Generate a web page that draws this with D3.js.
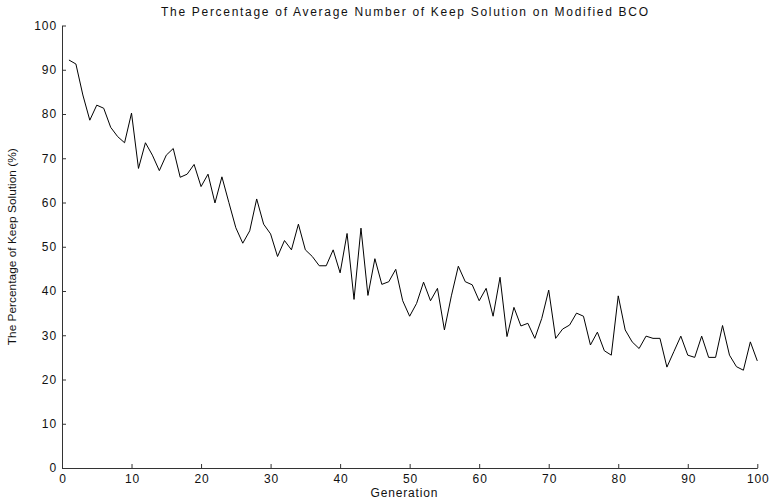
<!DOCTYPE html>
<html>
<head>
<meta charset="utf-8">
<script src="https://cdn.jsdelivr.net/npm/d3@7"></script>
<style>
  html, body { margin: 0; padding: 0; background: #fff; }
  svg { display: block; font-family: "Liberation Sans", Arial, Helvetica, sans-serif; }
</style>
</head>
<body>
<svg id="chart" width="772" height="502"></svg>
<script>
// ---- data ----
const generations = d3.range(1, 101);
const keepPercent = [
  92.2, 91.3, 84.3, 78.6, 82.0, 81.3, 77.0, 74.9, 73.5, 80.2,
  67.7, 73.5, 70.7, 67.2, 70.7, 72.2, 65.7, 66.4, 68.6, 63.6,
  66.4, 59.9, 65.8, 60.0, 54.3, 50.8, 53.6, 60.8, 55.1, 52.9,
  47.8, 51.4, 49.3, 55.1, 49.3, 47.8, 45.7, 45.7, 49.3, 44.1,
  53.0, 38.1, 54.2, 39.0, 47.3, 41.5, 42.1, 44.9, 37.8, 34.3,
  37.2, 42.0, 37.8, 40.6, 31.2, 38.9, 45.6, 42.1, 41.4, 37.8,
  40.6, 34.3, 43.1, 29.7, 36.3, 32.1, 32.7, 29.3, 33.8, 40.2,
  29.3, 31.4, 32.3, 35.0, 34.3, 27.8, 30.7, 26.5, 25.5, 38.9,
  31.2, 28.5, 27.0, 29.8, 29.3, 29.3, 22.8, 26.3, 29.8, 25.5,
  25.0, 29.8, 25.0, 25.0, 32.2, 25.5, 22.9, 22.1, 28.5, 24.2
];
const xTicks = [0, 10, 20, 30, 40, 50, 60, 70, 80, 90, 100];
const yTicks = [0, 10, 20, 30, 40, 50, 60, 70, 80, 90, 100];
const titleText = "The Percentage of Average Number of Keep Solution on Modified BCO";
const xLabel = "Generation";
const yLabel = "The Percentage of Keep Solution (%)";

// ---- layout ----
const W = 772, H = 502;
const margin = { left: 62, right: 14.7, top: 25.5, bottom: 34 };
const svg = d3.select("#chart");

const x = d3.scaleLinear().domain([0, 100]).range([margin.left, W - margin.right]);
const y = d3.scaleLinear().domain([0, 100]).range([H - margin.bottom, margin.top]);

// axes
const xAxis = d3.axisBottom(x).tickValues(xTicks).tickFormat(d3.format("d"))
  .tickSizeInner(-4).tickSizeOuter(0).tickPadding(6);
const yAxis = d3.axisLeft(y).tickValues(yTicks).tickFormat(d3.format("d"))
  .tickSizeInner(-4).tickSizeOuter(0).tickPadding(5);

const gx = svg.append("g").attr("transform", `translate(0,${y(0)})`).call(xAxis);
const gy = svg.append("g").attr("transform", `translate(${x(0)},0)`).call(yAxis);

[gx, gy].forEach(g => {
  g.select(".domain").attr("stroke", "#333").attr("stroke-width", 1);
  g.selectAll(".tick line").attr("stroke", "#333").attr("stroke-width", 1);
  g.selectAll(".tick text").attr("fill", "#111")
    .style("font-family", "'Liberation Sans', Arial, sans-serif")
    .style("font-size", "12px").style("letter-spacing", "0.9px");
});
gx.selectAll(".tick text").attr("dx", "0.45px");

// line
const line = d3.line()
  .x((d, i) => x(generations[i]))
  .y(d => y(d));

svg.append("path")
  .datum(keepPercent)
  .attr("fill", "none")
  .attr("stroke", "#000")
  .attr("stroke-width", 1)
  .attr("d", line);

// title
svg.append("text")
  .attr("x", 404.5).attr("y", 16)
  .attr("text-anchor", "middle")
  .attr("fill", "#111")
  .style("font-size", "12px")
  .attr("textLength", 487).attr("lengthAdjust", "spacing")
  .text(titleText);

// x label
svg.append("text")
  .attr("x", 404).attr("y", 497)
  .attr("text-anchor", "middle")
  .attr("fill", "#111")
  .style("font-size", "12px")
  .attr("textLength", 67).attr("lengthAdjust", "spacing")
  .text(xLabel);

// y label
svg.append("text")
  .attr("transform", `translate(15.5,${(y(0) + y(100)) / 2}) rotate(-90)`)
  .attr("text-anchor", "middle")
  .attr("fill", "#111")
  .style("font-size", "11px")
  .attr("textLength", 197).attr("lengthAdjust", "spacingAndGlyphs")
  .text(yLabel);
</script>
</body>
</html>
